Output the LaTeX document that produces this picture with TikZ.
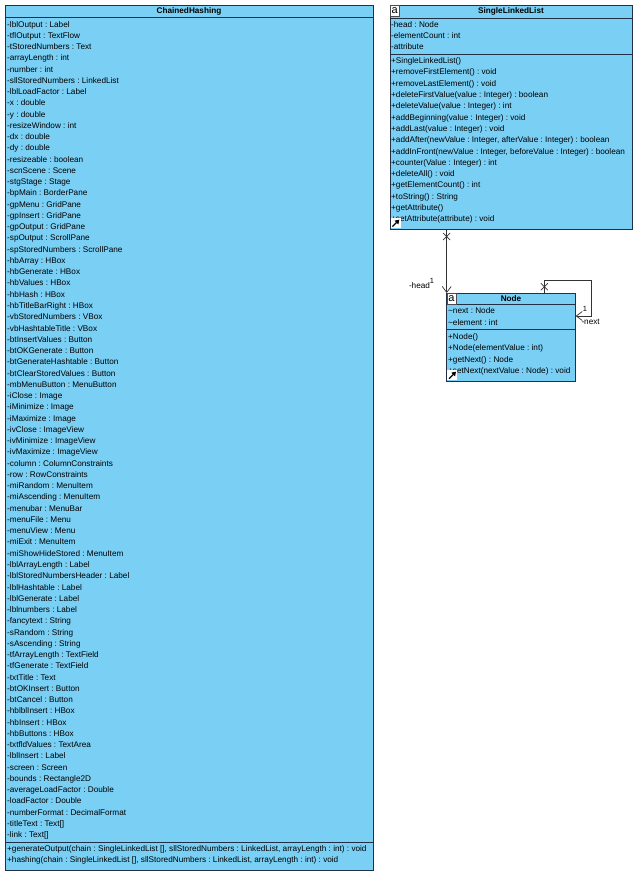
\documentclass[tikz,border=0pt]{standalone}
\usepackage{fontspec}
\setmainfont{Liberation Sans}
\usepackage{tikz}
\usetikzlibrary{positioning}
\usetikzlibrary{arrows.meta}
\definecolor{classblue}{RGB}{122,207,245}
\definecolor{classline}{RGB}{34,48,70}
\frenchspacing
\tikzset{
class_box/.style={rectangle, draw=classline, fill=classblue, line width=0.8pt, inner sep=0pt, outer sep=0pt, anchor=north west},
class_name/.style={font=\fontsize{8.2}{10}\selectfont\bfseries, inner sep=0pt},
member/.style={font=\fontsize{8.2}{10}\selectfont\frenchspacing, inner sep=0pt, anchor=west, text height=6pt, text depth=2pt},
sep/.style={draw=classline, line width=0.8pt},
icon_a/.style={rectangle, fill=white, draw=black!70, line width=0.3pt, minimum width=8.5pt, minimum height=10.5pt, inner sep=0pt, anchor=north west, font=\fontsize{11}{11}\selectfont},
icon_link/.style={rectangle, fill=white, minimum size=10pt, inner sep=0pt, anchor=south west},
link_arrow/.style={-{Triangle[length=4pt,width=5pt]}, line width=1.3pt, black},
assoc/.style={draw=black!80, line width=0.7pt, -{Straight Barb[length=6pt,width=9pt]}},
cross/.style={draw=black!80, line width=0.7pt},
role/.style={font=\fontsize{8.2}{10}\selectfont, inner sep=0pt},
mult/.style={font=\fontsize{7.5}{9}\selectfont, inner sep=0pt}
}
\begin{document}
\begin{tikzpicture}[x=1pt, y=-1pt]
    \useasboundingbox (0,0) rectangle (638,879);

    % class boxes
    \node[class_box, minimum width=368pt, minimum height=865.5pt] (chained) at (5,5) {};
    \node[class_box, minimum width=242pt, minimum height=224pt] (sll) at (390,5) {};
    \node[class_box, minimum width=129pt, minimum height=88pt] (node_cls) at (446.7,293) {};

    \node[class_name] (chained_name) at (189,11.5) {ChainedHashing};
    \node[class_name] (sll_name) at (511,11.8) {SingleLinkedList};
    \node[class_name] (node_name) at (511,298.8) {Node};

    \draw[sep] (chained.west |- 0,17.5) -- (chained.east |- 0,17.5);
    \draw[sep] (chained.west |- 0,842.3) -- (chained.east |- 0,842.3);
    \draw[sep] (sll.west |- 0,18) -- (sll.east |- 0,18);
    \draw[sep] (sll.west |- 0,54.7) -- (sll.east |- 0,54.7);
    \draw[sep] (node_cls.west |- 0,304) -- (node_cls.east |- 0,304);
    \draw[sep] (node_cls.west |- 0,329) -- (node_cls.east |- 0,329);

    % ChainedHashing
    \foreach \m [count=\i from 0] in {-lblOutput : Label, -tflOutput : TextFlow, -tStoredNumbers : Text,
        -arrayLength : int, -number : int, -sllStoredNumbers : LinkedList, -lblLoadFactor : Label,
        -x : double, -y : double, -resizeWindow : int, -dx : double, -dy : double, -resizeable : boolean,
        -scnScene : Scene, -stgStage : Stage, -bpMain : BorderPane, -gpMenu : GridPane, -gpInsert : GridPane,
        -gpOutput : GridPane, -spOutput : ScrollPane, -spStoredNumbers : ScrollPane, -hbArray : HBox,
        -hbGenerate : HBox, -hbValues : HBox, -hbHash : HBox, -hbTitleBarRight : HBox,
        -vbStoredNumbers : VBox, -vbHashtableTitle : VBox, -btInsertValues : Button, -btOKGenerate : Button,
        -btGenerateHashtable : Button, -btClearStoredValues : Button, -mbMenuButton : MenuButton,
        -iClose : Image, -iMinimize : Image, -iMaximize : Image, -ivClose : ImageView,
        -ivMinimize : ImageView, -ivMaximize : ImageView, -column : ColumnConstraints,
        -row : RowConstraints, -miRandom : MenuItem, -miAscending : MenuItem, -menubar : MenuBar,
        -menuFile : Menu, -menuView : Menu, -miExit : MenuItem, -miShowHideStored : MenuItem,
        -lblArrayLength : Label, -lblStoredNumbersHeader : Label, -lblHashtable : Label,
        -lblGenerate : Label, -lblnumbers : Label, -fancytext : String, -sRandom : String,
        -sAscending : String, -tfArrayLength : TextField, -tfGenerate : TextField, -txtTitle : Text,
        -btOKInsert : Button, -btCancel : Button, -hblblInsert : HBox, -hbInsert : HBox,
        -hbButtons : HBox, -txtfldValues : TextArea, -lblInsert : Label, -screen : Screen,
        -bounds : Rectangle2D, -averageLoadFactor : Double, -loadFactor : Double,
        -numberFormat : DecimalFormat, -titleText : Text[], -link : Text[]}
        \node[member] (chained_attr_\i) at (7,{25+11.26*\i}) {\m};
    \node[member] (chained_op_0) at (7,849.3) {+generateOutput(chain : SingleLinkedList [], sllStoredNumbers : LinkedList, arrayLength : int) : void};
    \node[member] (chained_op_1) at (7,860.6) {+hashing(chain : SingleLinkedList [], sllStoredNumbers : LinkedList, arrayLength : int) : void};

    % SingleLinkedList
    \foreach \m [count=\i from 0] in {-head : Node, -elementCount : int, -attribute}
        \node[member] (sll_attr_\i) at (391,{25+11.2*\i}) {\m};
    \foreach \m [count=\i from 0] in {+SingleLinkedList(), +removeFirstElement() : void,
        +removeLastElement() : void, +deleteFirstValue(value : Integer) : boolean,
        +deleteValue(value : Integer) : int, +addBeginning(value : Integer) : void,
        +addLast(value : Integer) : void, {+addAfter(newValue : Integer, afterValue : Integer) : boolean},
        {+addInFront(newValue : Integer, beforeValue : Integer) : boolean},
        +counter(Value : Integer) : int, +deleteAll() : void, +getElementCount() : int,
        +toString() : String, +getAttribute(), +setAttribute(attribute) : void}
        \node[member] (sll_op_\i) at (391,{61.7+11.29*\i}) {\m};
    \node[icon_a] (sll_icon) at (390.4,5.4) {a};
    \node[icon_link] (sll_link) at (390.4,228.6) {};
    \draw[link_arrow] ([shift={(2,-2)}]sll_link.south west) -- ([shift={(-1.5,1.5)}]sll_link.north east);

    % Node
    \foreach \m [count=\i from 0] in {\textasciitilde next : Node, \textasciitilde element : int}
        \node[member] (node_attr_\i) at (448,{311.7+11.6*\i}) {\m};
    \foreach \m [count=\i from 0] in {+Node(), +Node(elementValue : int), +getNext() : Node,
        +setNext(nextValue : Node) : void}
        \node[member] (node_op_\i) at (448,{337.3+11.45*\i}) {\m};
    \node[icon_a] (node_icon) at (447.1,293.4) {a};
    \node[icon_link] (node_link) at (447.1,380.6) {};
    \draw[link_arrow] ([shift={(2,-2)}]node_link.south west) -- ([shift={(-1.5,1.5)}]node_link.north east);

    % head association
    \draw[assoc] (node_cls.north west |- sll.south) -- (node_cls.north west);
    \path (node_cls.north west |- sll.south) ++(0,7.5) coordinate (head_cross);
    \draw[cross] ([shift={(-3.5,-3.5)}]head_cross) -- ([shift={(3.5,3.5)}]head_cross)
        ([shift={(-3.5,3.5)}]head_cross) -- ([shift={(3.5,-3.5)}]head_cross);
    \node[role] (head_role) at (419.5,286) {-head};
    \node[mult] (head_mult) at (432,280.8) {1};

    % next association
    \coordinate (next_start) at ([xshift=97.6pt]node_cls.north west);
    \coordinate (next_end) at ([yshift=-23pt]node_cls.north east);
    \coordinate (next_corner) at (591.5,280);
    \draw[assoc] (next_start) |- (next_corner) |- (next_end);
    \coordinate (next_cross) at ([yshift=6.3pt]next_start);
    \draw[cross] ([shift={(-3.5,-3.5)}]next_cross) -- ([shift={(3.5,3.5)}]next_cross)
        ([shift={(-3.5,3.5)}]next_cross) -- ([shift={(3.5,-3.5)}]next_cross);
    \node[mult] (next_mult) at (585,309.3) {1};
    \node[role, anchor=west] (next_role) at (581.3,321.7) {-next};
\end{tikzpicture}
\end{document}
